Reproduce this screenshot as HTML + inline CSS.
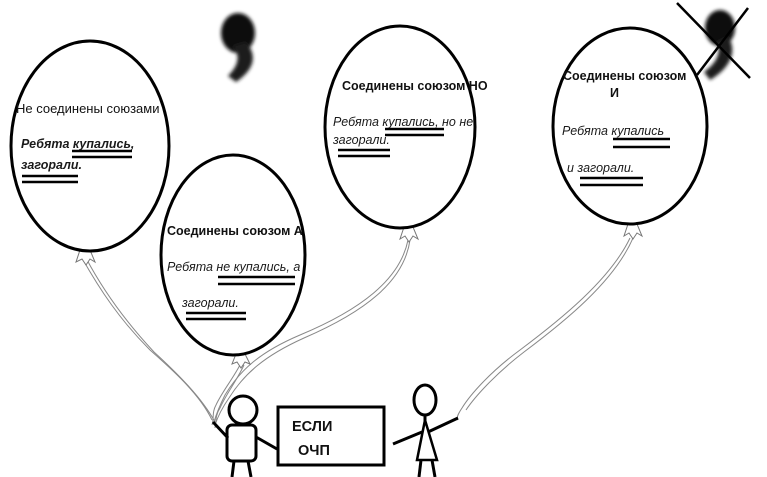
<!DOCTYPE html>
<html><head><meta charset="utf-8"><style>
html,body{margin:0;padding:0;background:#fff;width:767px;height:477px;overflow:hidden}
svg{display:block}
.h{font-family:"Liberation Sans",sans-serif;font-size:12.5px;font-weight:bold;fill:#111}
.s{font-family:"Liberation Sans",sans-serif;font-size:12.5px;font-style:italic;fill:#1a1a1a}
.u{stroke:#000;stroke-width:2.5}
.str{fill:none;stroke:#888;stroke-width:1}
</style></head><body>
<svg width="767" height="477" viewBox="0 0 767 477" xmlns="http://www.w3.org/2000/svg">
<defs><filter id="bl"><feGaussianBlur stdDeviation="1.8"/></filter></defs>
<!-- strings -->
<path class="str" d="M82 258 C100 290 120 320 150 350 C175 372 200 395 212 420"/>
<path class="str" d="M86 258 C104 292 126 322 154 352 C178 374 202 398 215 422"/>
<path class="str" d="M240 365 C232 380 222 392 216 405 C212 412 214 418 212 425"/>
<path class="str" d="M244 365 C236 382 226 394 220 408 C216 414 216 420 215 428"/>
<path class="str" d="M408 240 C400 280 360 310 300 335 C260 352 240 370 225 395 C220 405 216 415 214 422"/>
<path class="str" d="M410 240 C404 282 364 312 304 338 C264 356 244 374 229 398 C222 408 218 416 215 425"/>
<path class="str" d="M630 238 C610 280 560 320 520 350 C490 372 470 395 462 408 C458 414 456 418 458 420"/>
<path class="str" d="M633 238 C614 282 564 322 524 352 C494 375 474 398 466 410"/>
<!-- knots -->
<path d="M80 250 l-4 12 l6 -3 l4 6 l4 -6 l5 3 l-5 -12z" fill="#fff" stroke="#777" stroke-width="1"/>
<path d="M236 354 l-4 10 l5 -2 l4 6 l4 -6 l5 2 l-5 -10z" fill="#fff" stroke="#777" stroke-width="1"/>
<path d="M404 227 l-4 12 l5 -3 l4 6 l4 -6 l5 3 l-5 -12z" fill="#fff" stroke="#777" stroke-width="1"/>
<path d="M628 224 l-4 12 l5 -3 l4 6 l4 -6 l5 3 l-5 -12z" fill="#fff" stroke="#777" stroke-width="1"/>
<!-- balloons -->
<ellipse cx="90" cy="146" rx="79" ry="105" fill="#fff" stroke="#000" stroke-width="3"/>
<ellipse cx="233" cy="255" rx="72" ry="100" fill="#fff" stroke="#000" stroke-width="3"/>
<ellipse cx="400" cy="127" rx="75" ry="101" fill="#fff" stroke="#000" stroke-width="3"/>
<ellipse cx="630" cy="126" rx="77" ry="98" fill="#fff" stroke="#000" stroke-width="3"/>
<!-- balloon 1 text -->
<text class="h" x="16" y="113" style="font-weight:normal;font-size:13px">Не соединены союзами</text>
<text class="s" x="21" y="148" style="font-weight:bold">Ребята купались,</text>
<line class="u" x1="72" y1="151" x2="132" y2="151"/><line class="u" x1="72" y1="157" x2="132" y2="157"/>
<text class="s" x="21" y="169" style="font-weight:bold">загорали.</text>
<line class="u" x1="22" y1="176" x2="78" y2="176"/><line class="u" x1="22" y1="182" x2="78" y2="182"/>
<!-- balloon 2 -->
<text class="h" x="167" y="235">Соединены союзом А</text>
<text class="s" x="167" y="271">Ребята не купались, а</text>
<line class="u" x1="218" y1="277" x2="295" y2="277"/><line class="u" x1="218" y1="284" x2="295" y2="284"/>
<text class="s" x="182" y="307">загорали.</text>
<line class="u" x1="186" y1="313" x2="246" y2="313"/><line class="u" x1="186" y1="319" x2="246" y2="319"/>
<!-- balloon 3 -->
<text class="h" x="342" y="90">Соединены союзом НО</text>
<text class="s" x="333" y="126">Ребята купались, но не</text>
<line class="u" x1="385" y1="129" x2="444" y2="129"/><line class="u" x1="385" y1="135" x2="444" y2="135"/>
<text class="s" x="333" y="144">загорали.</text>
<line class="u" x1="338" y1="150" x2="390" y2="150"/><line class="u" x1="338" y1="156" x2="390" y2="156"/>
<!-- balloon 4 -->
<text class="h" x="563" y="80">Соединены союзом</text>
<text class="h" x="610" y="97">И</text>
<text class="s" x="562" y="135">Ребята купались</text>
<line class="u" x1="613" y1="139" x2="670" y2="139"/><line class="u" x1="613" y1="147" x2="670" y2="147"/>
<text class="s" x="567" y="172">и загорали.</text>
<line class="u" x1="580" y1="178" x2="643" y2="178"/><line class="u" x1="580" y1="185" x2="643" y2="185"/>
<!-- commas -->
<g filter="url(#bl)">
<ellipse cx="238" cy="33" rx="17" ry="20" fill="#111"/>
<path d="M246 42 C258 56 254 70 236 82 L228 76 C240 64 240 54 232 46z" fill="#1a1a1a"/>
</g>
<g filter="url(#bl)">
<ellipse cx="720" cy="28" rx="15" ry="18" fill="#111"/>
<path d="M728 36 C738 52 730 68 710 80 L704 72 C718 62 722 50 716 42z" fill="#1a1a1a"/>
</g>
<line x1="677" y1="3" x2="750" y2="78" stroke="#000" stroke-width="2.5"/>
<line x1="697" y1="75" x2="748" y2="8" stroke="#000" stroke-width="2.5"/>
<!-- person 1 -->
<circle cx="243" cy="410" r="14" fill="#fff" stroke="#000" stroke-width="3"/>
<rect x="227" y="425" width="29" height="36" rx="5" fill="#fff" stroke="#000" stroke-width="3"/>
<line x1="234" y1="461" x2="232" y2="477" stroke="#000" stroke-width="3"/>
<line x1="248" y1="461" x2="251" y2="477" stroke="#000" stroke-width="3"/>
<line x1="228" y1="438" x2="213" y2="422" stroke="#000" stroke-width="3"/>
<line x1="256" y1="437" x2="277" y2="449" stroke="#000" stroke-width="3"/>
<!-- sign -->
<rect x="278" y="407" width="106" height="58" fill="#fff" stroke="#000" stroke-width="3"/>
<text class="h" x="292" y="431" style="font-size:14.5px">ЕСЛИ</text>
<text class="h" x="298" y="455" style="font-size:14.5px">ОЧП</text>
<!-- person 2 -->
<ellipse cx="425" cy="400" rx="11" ry="15" fill="#fff" stroke="#000" stroke-width="3"/>
<line x1="425" y1="415" x2="425" y2="425" stroke="#000" stroke-width="3"/>
<path d="M425 420 L417 460 L437 460 Z" fill="#fff" stroke="#000" stroke-width="2.5"/>
<line x1="421" y1="460" x2="419" y2="477" stroke="#000" stroke-width="3"/>
<line x1="432" y1="460" x2="435" y2="477" stroke="#000" stroke-width="3"/>
<line x1="422" y1="432" x2="393" y2="444" stroke="#000" stroke-width="3"/>
<line x1="428" y1="432" x2="458" y2="418" stroke="#000" stroke-width="3"/>
</svg>
</body></html>
